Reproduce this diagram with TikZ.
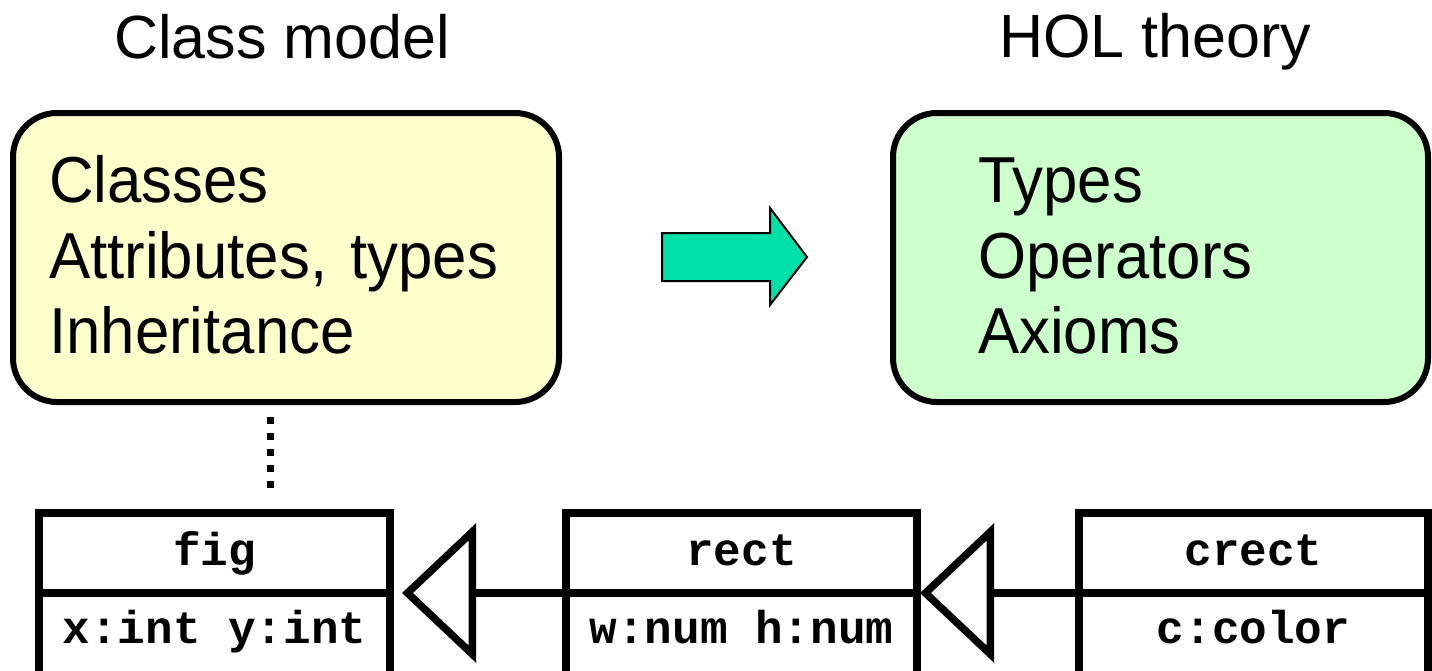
\documentclass[tikz,border=0pt]{standalone}
\usepackage{fontspec}
\setmainfont{Liberation Sans}
\newfontfamily\boxfont[FakeStretch=0.95]{Liberation Sans}
\newfontfamily\codefont{Liberation Mono}
\usetikzlibrary{arrows.meta}
\definecolor{modelfill}{HTML}{FFFFCC}
\definecolor{theoryfill}{HTML}{CCFFCC}
\definecolor{mapfill}{HTML}{00E0A8}

\begin{document}
\begin{tikzpicture}[x=1pt,y=-1pt,
  title/.style={font=\fontsize{61}{70}\selectfont, anchor=base, inner sep=0pt},
  area/.style={draw, line width=6pt, rounded corners=44pt, inner sep=0pt,
    minimum width=#1, minimum height=289pt},
  entry/.style={font=\boxfont\fontsize{65}{75}\selectfont, anchor=base west, inner sep=0pt},
  compartment/.style={draw, line width=7.5pt, fill=white, inner sep=0pt, outer sep=0pt,
    minimum width=#1, font=\codefont\bfseries\fontsize{46}{54}\selectfont},
  classname/.style={compartment=#1, minimum height=80pt, text height=30pt, text depth=6pt},
  classattr/.style={compartment=#1, minimum height=84pt, text height=22pt, text depth=6pt, anchor=north},
  inherit/.style={line width=7.5pt, -{Triangle[open, length=74pt, width=138pt]}},
  trace/.style={line width=7pt, dash pattern=on 7pt off 9pt},
  mapping/.style={draw, line width=2pt, fill=mapfill, line join=miter}
]
\useasboundingbox (0,0) rectangle (1432,670);
\clip (0,0) rectangle (1432,670);

% headings
\node[title] (cmtitle) at (282,58) {Class model};
\node[title] (holtitle) at (1155,57) {HOL theory};

% class model summary
\node[area=546pt, fill=modelfill] (model) at (286,257.5) {};
\node[entry] (m1) at (49,202) {Classes};
\node[entry] (m2) at (49,278) {Attributes,\hspace{6pt} types};
\node[entry] (m3) at (49,353) {Inheritance};

% HOL theory summary
\node[area=535pt, fill=theoryfill] (theory) at (1160.5,257.5) {};
\node[entry] (t1) at (978,202) {Types};
\node[entry] (t2) at (978,278) {Operators};
\node[entry] (t3) at (978,353) {Axioms};

% translation arrow
\draw[mapping] (662,233) -- (770,233) -- (770,208) -- (807,257)
  -- (770,305) -- (770,281) -- (662,281) -- cycle;

% link from the summary down to the example classes
\coordinate (d1) at (270.5,417);
\coordinate (d2) at (270.5,488);
\draw[trace] (d1) -- (d2);

% example class hierarchy
\node[classname=351pt] (fig) at (214.5,553) {fig};
\node[classattr=351pt] (figattr) at (fig.south) {x:int y:int};

\node[classname=351pt] (rect) at (741.5,553) {rect};
\node[classattr=351pt] (rectattr) at (rect.south) {w:num h:num};

\node[classname=349pt] (crect) at (1253.5,553) {crect};
\node[classattr=349pt] (crectattr) at (crect.south) {c:color};

\draw[inherit] (rect.south west) -- ([xshift=12pt]fig.south east);
\draw[inherit] (crect.south west) -- ([xshift=3pt]rect.south east);
\end{tikzpicture}
\end{document}
